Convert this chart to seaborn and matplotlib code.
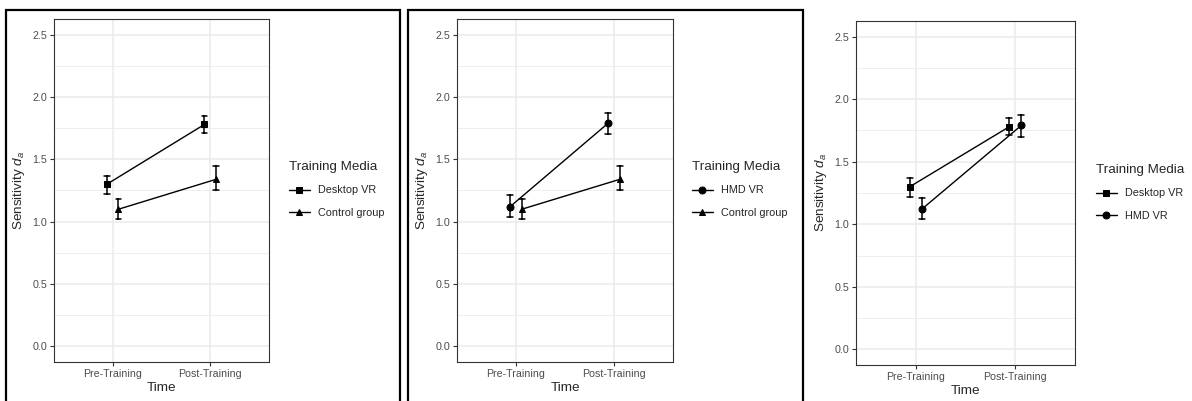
import pandas as pd
import matplotlib.pyplot as plt
from matplotlib.patches import Rectangle
from matplotlib.ticker import MultipleLocator
import seaborn as sns

# values (mean and error bar ends)
time = ["Pre-Training", "Post-Training"]
desktop_mean = [1.30, 1.78]
desktop_lo = [1.22, 1.71]
desktop_hi = [1.37, 1.85]
hmd_mean = [1.12, 1.79]
hmd_lo = [1.04, 1.70]
hmd_hi = [1.21, 1.87]
control_mean = [1.10, 1.34]
control_lo = [1.02, 1.25]
control_hi = [1.18, 1.45]

groups = {
    "Desktop VR": (desktop_lo, desktop_mean, desktop_hi),
    "HMD VR": (hmd_lo, hmd_mean, hmd_hi),
    "Control group": (control_lo, control_mean, control_hi),
}
marker_of = {"Desktop VR": "s", "HMD VR": "o", "Control group": "^"}

sns.set_theme(style="white")
plt.rcParams['font.family'] = ['Liberation Sans', 'DejaVu Sans']
plt.rcParams['mathtext.fontset'] = 'custom'
plt.rcParams['mathtext.rm'] = 'Liberation Sans'
plt.rcParams['mathtext.it'] = 'Liberation Sans:italic'


def make_df(names):
    rows = []
    for name in names:
        lo, mid, hi = groups[name]
        for i, t in enumerate(time):
            # median of (lo, mean, hi) is the mean, 100% interval spans lo..hi
            for v in (lo[i], mid[i], hi[i]):
                rows.append({"Time": t, "da": v, "Media": name})
    return pd.DataFrame(rows)


fig = plt.figure(figsize=(11.92, 4.01), dpi=100)
W, H = 1192, 401
panels = [
    (["Desktop VR", "Control group"], (54, 269, 19, 362), (289, 161)),
    (["HMD VR", "Control group"], (457, 673, 19, 362), (692, 161)),
    (["Desktop VR", "HMD VR"], (856, 1075, 21, 365), (1096, 164)),
]

for names, (l, r, t, b), (lx, ly) in panels:
    ax = fig.add_axes([l / W, 1 - b / H, (r - l) / W, (b - t) / H])
    df = make_df(names)
    sns.pointplot(data=df, x="Time", y="da", hue="Media", order=time,
                  hue_order=names, estimator="median", errorbar=("pi", 100),
                  dodge=0.12, markers=[marker_of[n] for n in names],
                  linestyles="-", palette=["black", "black"], capsize=0.06,
                  err_kws={"linewidth": 1.1}, markersize=5, linewidth=1.0,
                  ax=ax)
    ax.set_xlim(-0.6, 1.6)
    ax.set_ylim(-0.125, 2.625)
    ax.yaxis.set_major_locator(MultipleLocator(0.5))
    ax.yaxis.set_minor_locator(MultipleLocator(0.25))
    ax.grid(True, which="major", color="#EBEBEB", linewidth=1.1)
    ax.grid(True, which="minor", axis="y", color="#EBEBEB", linewidth=0.6)
    ax.set_axisbelow(True)
    for s in ax.spines.values():
        s.set_color("#333333")
        s.set_linewidth(0.8)
    ax.tick_params(axis="both", which="major", length=3, width=0.8,
                   color="#333333", labelcolor="#4D4D4D", labelsize=7.7, pad=2,
                   left=True, bottom=True)
    ax.tick_params(axis="y", which="minor", length=0)
    ax.set_xlabel("Time", fontsize=9.7, labelpad=2)
    ax.set_ylabel("Sensitivity $d_a$", fontsize=9.7, labelpad=4)
    sns.move_legend(ax, "upper left", bbox_to_anchor=(lx / W, 1 - ly / H),
                    bbox_transform=fig.transFigure, title="Training Media",
                    frameon=False, fontsize=7.8, title_fontsize=9.6,
                    borderpad=0, borderaxespad=0, handlelength=1.9,
                    handletextpad=0.8, labelspacing=1.15, alignment="left")

# black frames around the first two panels
fig.patches.append(Rectangle((6 / W, -0.02), 394 / W, 1.02 - 10 / H,
                             transform=fig.transFigure, fill=False,
                             edgecolor="black", linewidth=1.6))
fig.patches.append(Rectangle((408 / W, -0.02), 395 / W, 1.02 - 10 / H,
                             transform=fig.transFigure, fill=False,
                             edgecolor="black", linewidth=1.6))

fig.savefig("out.png", dpi=100)
